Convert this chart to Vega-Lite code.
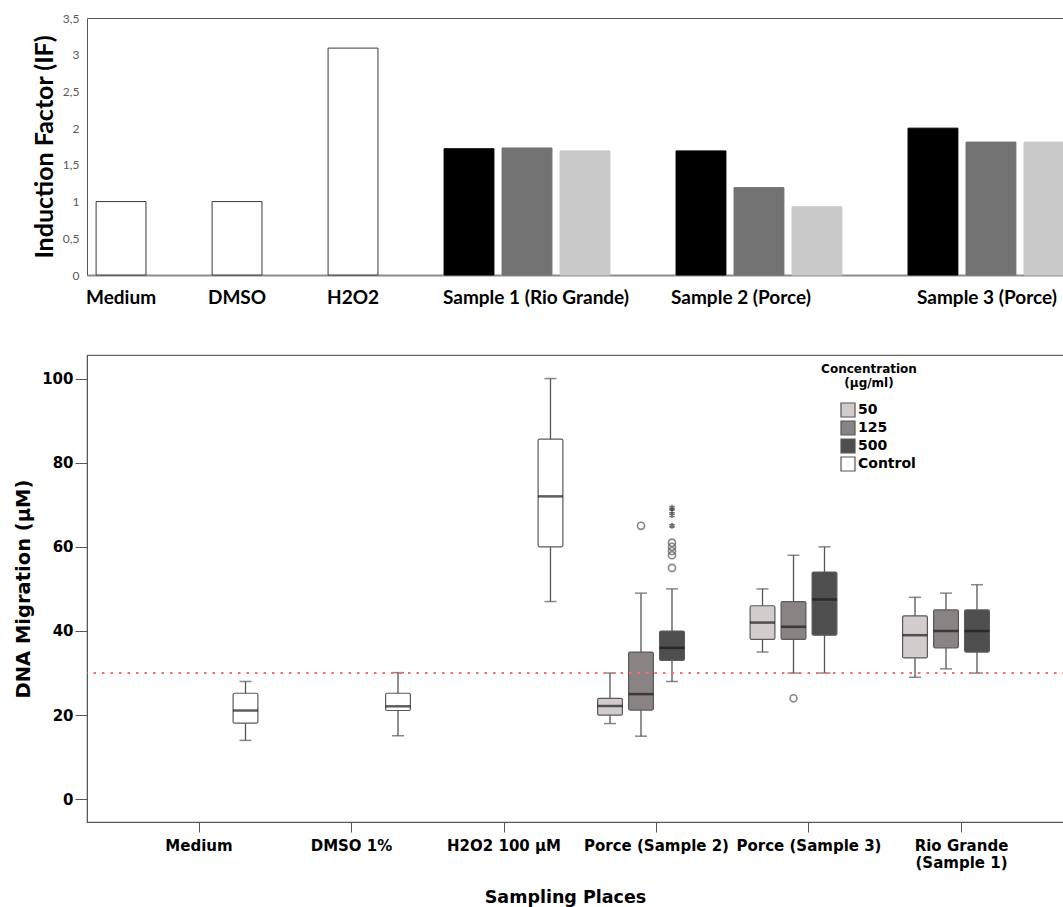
{
  "$schema": "https://vega.github.io/schema/vega-lite/v6.json",
  "background": "white",
  "padding": {"left": 13, "top": 11, "right": 0, "bottom": 0},
  "spacing": 46,
  "datasets": {
    "induction": [
      {"group": "Medium", "series": "Control", "value": 1.0},
      {"group": "DMSO", "series": "Control", "value": 1.0},
      {"group": "H2O2", "series": "Control", "value": 3.09},
      {"group": "Sample 1 (Rio Grande)", "series": "500", "value": 1.72},
      {"group": "Sample 1 (Rio Grande)", "series": "125", "value": 1.73},
      {"group": "Sample 1 (Rio Grande)", "series": "50", "value": 1.69},
      {"group": "Sample 2 (Porce)", "series": "500", "value": 1.69},
      {"group": "Sample 2 (Porce)", "series": "125", "value": 1.19},
      {"group": "Sample 2 (Porce)", "series": "50", "value": 0.93},
      {"group": "Sample 3 (Porce)", "series": "500", "value": 2.0},
      {"group": "Sample 3 (Porce)", "series": "125", "value": 1.81},
      {"group": "Sample 3 (Porce)", "series": "50", "value": 1.81}
    ],
    "boxes": [
      {"place": "Medium", "concentration": "Control", "min": 14, "q1": 18.1, "median": 21.1, "q3": 25.2, "max": 28},
      {"place": "DMSO 1%", "concentration": "Control", "min": 15.1, "q1": 21.1, "median": 22.1, "q3": 25.2, "max": 30.1},
      {"place": "H2O2 100 µM", "concentration": "Control", "min": 47, "q1": 60, "median": 72, "q3": 85.6, "max": 100},
      {"place": "Porce (Sample 2)", "concentration": "50", "min": 18, "q1": 20, "median": 22.2, "q3": 24, "max": 30},
      {"place": "Porce (Sample 2)", "concentration": "125", "min": 15, "q1": 21.2, "median": 25, "q3": 35, "max": 49},
      {"place": "Porce (Sample 2)", "concentration": "500", "min": 28, "q1": 33, "median": 36, "q3": 40, "max": 50},
      {"place": "Porce (Sample 3)", "concentration": "50", "min": 35, "q1": 38, "median": 42, "q3": 46, "max": 50},
      {"place": "Porce (Sample 3)", "concentration": "125", "min": 30, "q1": 38, "median": 41, "q3": 47, "max": 58},
      {"place": "Porce (Sample 3)", "concentration": "500", "min": 30, "q1": 39, "median": 47.5, "q3": 54, "max": 60},
      {"place": "Rio Grande (Sample 1)", "concentration": "50", "min": 29, "q1": 33.6, "median": 39, "q3": 43.6, "max": 48},
      {"place": "Rio Grande (Sample 1)", "concentration": "125", "min": 31, "q1": 36, "median": 40, "q3": 45, "max": 49},
      {"place": "Rio Grande (Sample 1)", "concentration": "500", "min": 30, "q1": 35, "median": 40, "q3": 45, "max": 51}
    ],
    "outliers": [
      {"place": "Porce (Sample 2)", "concentration": "125", "value": 65, "kind": "outlier"},
      {"place": "Porce (Sample 2)", "concentration": "500", "value": 55, "kind": "outlier"},
      {"place": "Porce (Sample 2)", "concentration": "500", "value": 58, "kind": "outlier"},
      {"place": "Porce (Sample 2)", "concentration": "500", "value": 59, "kind": "outlier"},
      {"place": "Porce (Sample 2)", "concentration": "500", "value": 60, "kind": "outlier"},
      {"place": "Porce (Sample 2)", "concentration": "500", "value": 61, "kind": "outlier"},
      {"place": "Porce (Sample 2)", "concentration": "500", "value": 65, "kind": "extreme"},
      {"place": "Porce (Sample 2)", "concentration": "500", "value": 67.5, "kind": "extreme"},
      {"place": "Porce (Sample 2)", "concentration": "500", "value": 68.5, "kind": "extreme"},
      {"place": "Porce (Sample 2)", "concentration": "500", "value": 69.3, "kind": "extreme"},
      {"place": "Porce (Sample 3)", "concentration": "125", "value": 24, "kind": "outlier"}
    ]
  },
  "resolve": {
    "scale": {"color": "independent", "stroke": "independent", "x": "independent", "y": "independent"},
    "legend": {"color": "independent", "stroke": "independent"}
  },
  "vconcat": [
    {
      "width": 996,
      "height": 257,
      "view": {"stroke": "#555555", "strokeWidth": 1},
      "data": {"name": "induction"},
      "transform": [
        {"calculate": "datum.series === 'Control' ? datum.group : datum.group + ' | ' + datum.series", "as": "slot"}
      ],
      "mark": {"type": "bar", "strokeWidth": 1},
      "encoding": {
        "x": {
          "field": "slot",
          "type": "nominal",
          "sort": null,
          "scale": {
            "domain": ["Medium", "gap a", "DMSO", "gap b", "H2O2", "gap c",
              "Sample 1 (Rio Grande) | 500", "Sample 1 (Rio Grande) | 125", "Sample 1 (Rio Grande) | 50", "gap d",
              "Sample 2 (Porce) | 500", "Sample 2 (Porce) | 125", "Sample 2 (Porce) | 50", "gap e",
              "Sample 3 (Porce) | 500", "Sample 3 (Porce) | 125", "Sample 3 (Porce) | 50"],
            "paddingInner": 0.14,
            "paddingOuter": 0.157
          },
          "axis": {
            "title": null,
            "labelExpr": "indexof(datum.value, 'gap') === 0 ? '' : (indexof(datum.value, ' | ') < 0 ? datum.value : (indexof(datum.value, ' | 125') > 0 ? split(datum.value, ' | ')[0] : ''))",
            "labelAngle": 0,
            "ticks": false,
            "domainColor": "#8c8c8c",
            "domainWidth": 2,
            "labelFont": "Lato",
            "labelFontSize": 19,
            "labelFontWeight": "bold",
            "labelColor": "#000000",
            "labelPadding": 13,
            "labelOverlap": false,
            "labelLimit": 0,
            "labelOffset": {"condition": [
              {"test": "indexof(datum.value, 'Sample 1') === 0", "value": 9},
              {"test": "indexof(datum.value, 'Sample 2') === 0", "value": -18},
              {"test": "indexof(datum.value, 'Sample 3') === 0", "value": -4}
            ], "value": 0}
          }
        },
        "y": {
          "field": "value",
          "type": "quantitative",
          "scale": {"domain": [0, 3.5], "nice": false},
          "axis": {
            "title": "Induction Factor (IF)",
            "values": [0, 0.5, 1, 1.5, 2, 2.5, 3, 3.5],
            "format": ".2~f",
            "labelExpr": "replace(datum.label, '.', ',')",
            "grid": false,
            "ticks": false,
            "domain": false,
            "labelFont": "Lato",
            "labelFontSize": 12,
            "labelColor": "#595959",
            "labelPadding": 8,
            "titleFont": "Lato",
            "titleFontSize": 25,
            "titleFontWeight": "bold",
            "titleColor": "#000000",
            "titlePadding": 5
          }
        },
        "color": {
          "field": "series",
          "type": "nominal",
          "scale": {"domain": ["500", "125", "50", "Control"], "range": ["#000000", "#727272", "#c9c9c9", "#ffffff"]},
          "legend": null
        },
        "stroke": {
          "field": "series",
          "type": "nominal",
          "scale": {"domain": ["500", "125", "50", "Control"], "range": ["#000000", "#727272", "#c9c9c9", "#3a3a3a"]},
          "legend": null
        }
      }
    },
    {
      "width": 986.5,
      "height": 467,
      "view": {"stroke": "#666666", "strokeWidth": 1.2},
      "layer": [
        {
          "data": {"name": "boxes"},
          "encoding": {
            "x": {
              "field": "place",
              "type": "nominal",
              "sort": null,
              "title": "Sampling Places",
              "scale": {
                "domain": ["Medium", "DMSO 1%", "H2O2 100 µM", "Porce (Sample 2)", "Porce (Sample 3)", "Rio Grande (Sample 1)"],
                "paddingInner": 0.187,
                "paddingOuter": 0.328
              },
              "axis": {
                "labelExpr": "datum.value === 'Rio Grande (Sample 1)' ? ['Rio Grande', '(Sample 1)'] : datum.value",
                "labelAngle": 0,
                "tickSize": 10,
                "tickColor": "#555555",
                "domainColor": "#555555",
                "labelFont": "DejaVu Sans",
                "labelFontSize": 15,
                "labelFontWeight": "bold",
                "labelColor": "#000000",
                "labelPadding": 6,
                "labelOverlap": false,
                "labelLimit": 0,
                "titleFont": "DejaVu Sans",
                "titleFontSize": 17.5,
                "titleFontWeight": "bold",
                "titleColor": "#000000",
                "titlePadding": 18,
                "titleX": 478,
                "titleAlign": "center"
              }
            },
            "xOffset": {
              "field": "concentration",
              "type": "nominal",
              "scale": {"domain": ["50", "125", "500", "Control"], "paddingInner": 0.2, "paddingOuter": 0.1}
            }
          },
          "layer": [
            {
              "mark": {"type": "rule", "color": "#555555", "strokeWidth": 1.3},
              "encoding": {
                "y": {
                  "field": "min",
                  "type": "quantitative",
                  "title": "DNA Migration (µM)",
                  "scale": {"domain": [-5.4, 105.6], "nice": false, "zero": false},
                  "axis": {
                    "values": [0, 20, 40, 60, 80, 100],
                    "grid": false,
                    "tickSize": 12,
                    "tickColor": "#555555",
                    "domainColor": "#555555",
                    "labelFont": "DejaVu Sans",
                    "labelFontSize": 15,
                    "labelFontWeight": "bold",
                    "labelColor": "#000000",
                    "labelPadding": 2,
                    "titleFont": "DejaVu Sans",
                    "titleFontSize": 19.5,
                    "titleFontWeight": "bold",
                    "titleColor": "#000000",
                    "titlePadding": 8
                  }
                },
                "y2": {"field": "max"}
              }
            },
            {
              "mark": {"type": "tick", "color": "#555555", "thickness": 1.5, "size": 12},
              "encoding": {"y": {"field": "min", "type": "quantitative", "title": "DNA Migration (µM)"}}
            },
            {
              "mark": {"type": "tick", "color": "#555555", "thickness": 1.5, "size": 12},
              "encoding": {"y": {"field": "max", "type": "quantitative", "title": "DNA Migration (µM)"}}
            },
            {
              "mark": {"type": "bar", "stroke": "#5a5a5a", "strokeWidth": 1.2, "cornerRadius": 1.5},
              "encoding": {
                "y": {"field": "q1", "type": "quantitative", "title": "DNA Migration (µM)"},
                "y2": {"field": "q3"},
                "color": {
                  "field": "concentration",
                  "type": "nominal",
                  "scale": {"domain": ["50", "125", "500", "Control"], "range": ["#d3cccc", "#8a8383", "#4e4e4e", "#ffffff"]},
                  "legend": {
                    "orient": "none",
                    "legendX": 734,
                    "legendY": 9,
                    "title": ["Concentration", "(µg/ml)"],
                    "titleFont": "DejaVu Sans",
                    "titleFontSize": 12,
                    "titleFontWeight": "bold",
                    "titleColor": "#000000",
                    "titleAnchor": "middle",
                    "titleAlign": "center",
                    "titlePadding": 12,
                    "labelFont": "DejaVu Sans",
                    "labelFontSize": 14,
                    "labelFontWeight": "bold",
                    "labelColor": "#000000",
                    "labelOffset": 2,
                    "symbolType": "square",
                    "symbolSize": 196,
                    "symbolStrokeColor": "#555555",
                    "symbolStrokeWidth": 1.2,
                    "symbolOffset": 18,
                    "rowPadding": -2
                  }
                }
              }
            },
            {
              "mark": {"type": "tick", "color": "#1a1a1a", "thickness": 2.5, "size": 25},
              "encoding": {"y": {"field": "median", "type": "quantitative", "title": "DNA Migration (µM)"}}
            },
            {
              "data": {"name": "outliers"},
              "transform": [{"filter": "datum.kind === 'outlier'"}],
              "mark": {"type": "point", "shape": "circle", "filled": false, "size": 50, "stroke": "#555555", "strokeWidth": 1.6},
              "encoding": {"y": {"field": "value", "type": "quantitative", "title": "DNA Migration (µM)"}}
            },
            {
              "data": {"name": "outliers"},
              "transform": [{"filter": "datum.kind === 'extreme'"}],
              "mark": {"type": "point", "shape": "M0,-1L0,1M-0.87,-0.5L0.87,0.5M-0.87,0.5L0.87,-0.5", "filled": false, "size": 36, "stroke": "#333333", "strokeWidth": 1.6},
              "encoding": {"y": {"field": "value", "type": "quantitative", "title": "DNA Migration (µM)"}}
            }
          ]
        },
        {
          "data": {"values": [{}]},
          "mark": {"type": "rule", "color": "#ff6b6b", "strokeWidth": 2, "strokeDash": [2.5, 6]},
          "encoding": {"y": {"datum": 30, "type": "quantitative"}}
        }
      ]
    }
  ],
  "config": {
    "font": "DejaVu Sans"
  }
}
